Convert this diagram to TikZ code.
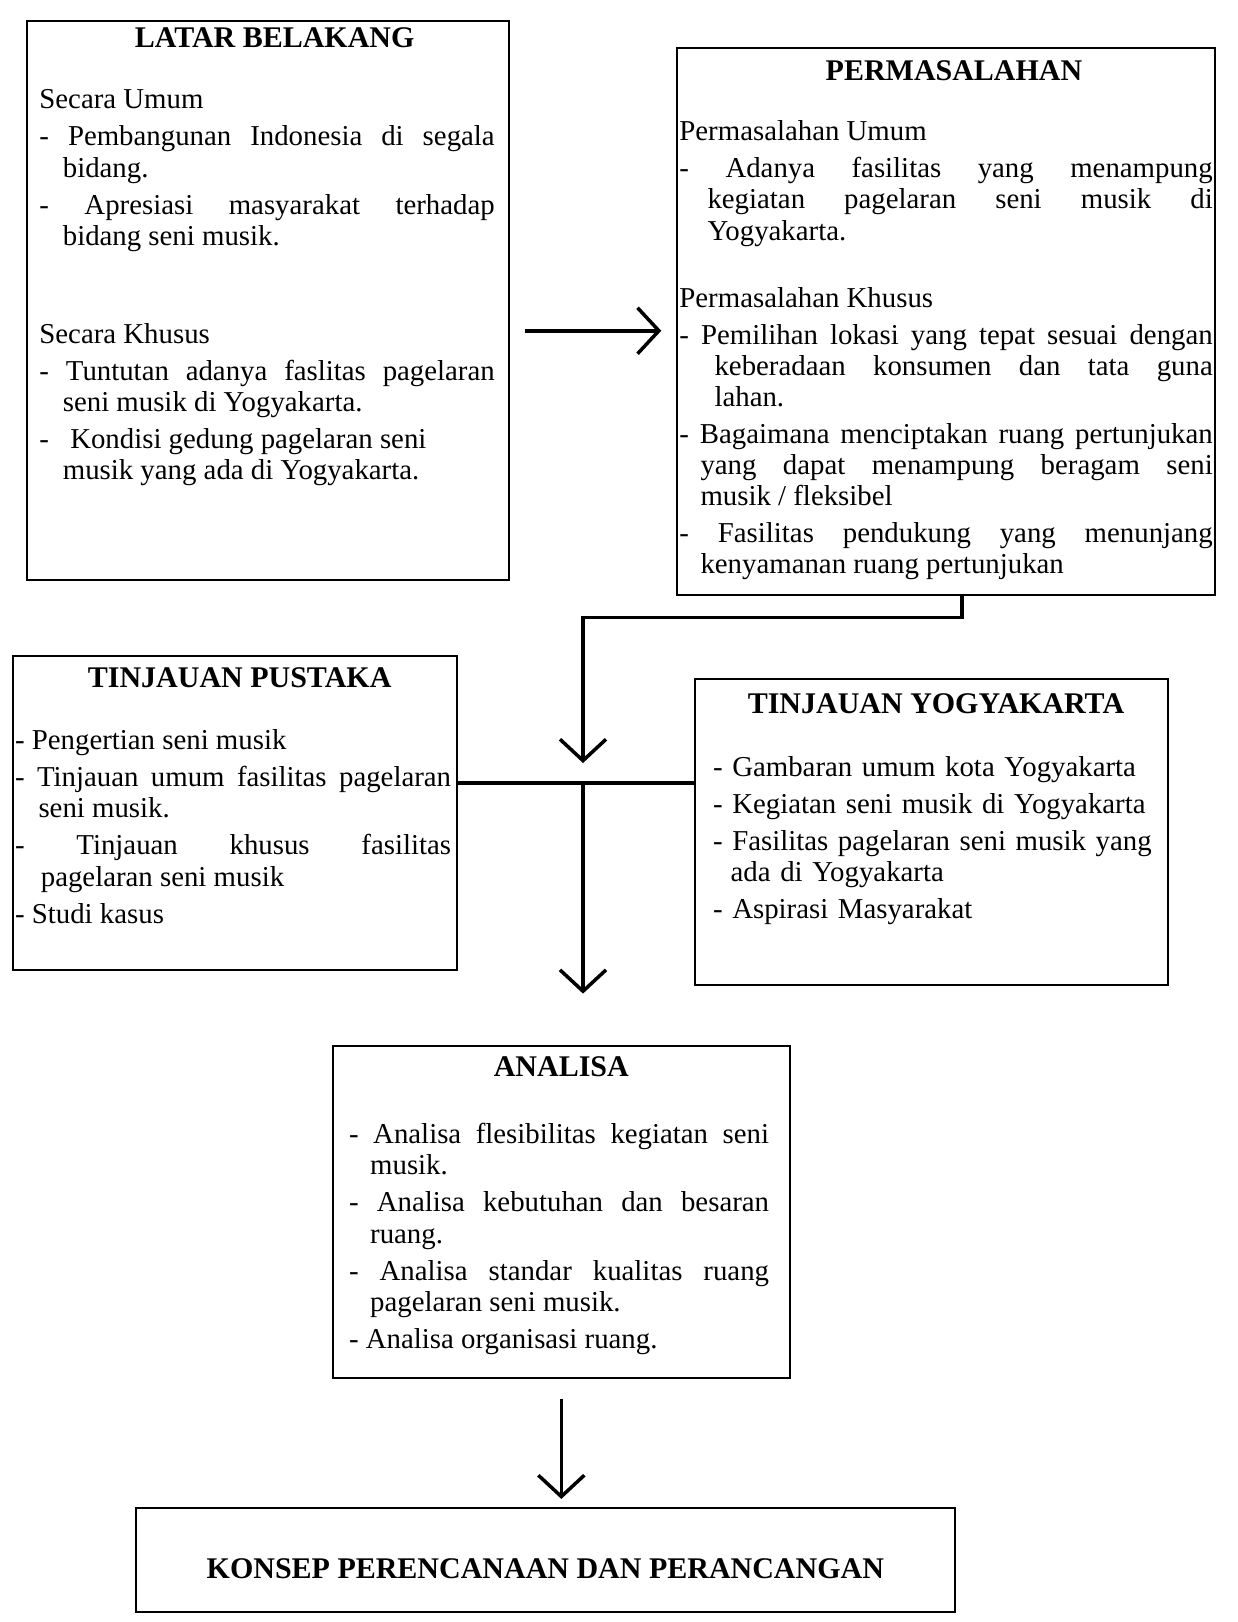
\documentclass[tikz,border=0pt]{standalone}
\usepackage{fontspec}
\setmainfont{Liberation Serif}
\usetikzlibrary{arrows.meta}
\tikzstyle{panel} = [rectangle, draw=black, line width=0.9pt]
\tikzstyle{heading} = [inner sep=0pt, font=\bfseries\fontsize{12.8}{14}\selectfont]
\tikzstyle{body} = [anchor=north west, inner sep=0pt, align=justify, font=\fontsize{12.3}{13.3}\selectfont, execute at begin node={\setlength{\parindent}{0pt}\setlength{\parskip}{2.5pt}}]
\tikzstyle{arrow} = [line width=1.5pt, -{Straight Barb[length=3.2mm,width=6.9mm]}]
\tikzstyle{link} = [line width=1.5pt]
\newcommand{\poin}[1][10pt]{\hangindent=#1\hangafter=1\ignorespaces}
\hyphenpenalty=10000
\exhyphenpenalty=10000

\begin{document}
\begin{tikzpicture}
[node distance=2cm]
\useasboundingbox (0,0) rectangle (18.57,-24.33);

\node (latar) [panel, minimum width=7.23cm, minimum height=8.39cm] at (4.02,-4.51) {};
\node (perm) [panel, minimum width=8.07cm, minimum height=8.2cm, right of = latar, xshift=8.17cm, yshift=-0.31cm] {};
\node (pustaka) [panel, minimum width=6.66cm, minimum height=4.71cm, below of = latar, xshift=-0.5cm, yshift=-5.68cm] {};
\node (yogya) [panel, minimum width=7.1cm, minimum height=4.59cm, below of = perm, xshift=-0.22cm, yshift=-5.66cm] {};
\node (analisa) [panel, minimum width=6.86cm, minimum height=4.98cm, below of = pustaka, xshift=4.9cm, yshift=-3.99cm] {};
\node (konsep) [panel, heading, text height=0.54cm, text depth=0pt, minimum width=12.29cm, minimum height=1.56cm, below of = analisa, xshift=-0.24cm, yshift=-3.22cm] {KONSEP PERENCANAAN DAN PERANCANGAN};

\node (latarhead) [heading] at ([xshift=0.1cm, yshift=-0.26cm]latar.north) {LATAR BELAKANG};
\node (permhead) [heading] at ([xshift=0.12cm, yshift=-0.35cm]perm.north) {PERMASALAHAN};
\node (pustakahead) [heading] at ([xshift=0.075cm, yshift=-0.35cm]pustaka.north) {TINJAUAN PUSTAKA};
\node (yogyahead) [heading] at ([xshift=0.07cm, yshift=-0.39cm]yogya.north) {TINJAUAN YOGYAKARTA};
\node (analisahead) [heading] at ([yshift=-0.33cm]analisa.north) {ANALISA};

\node (latarbody) [body, text width=6.83cm] at ([xshift=0.195cm, yshift=-1.04cm]latar.north west) {%
Secara Umum\par
\poin - Pembangunan Indonesia di segala\linebreak bidang.\par
\poin - Apresiasi masyarakat terhadap\linebreak bidang seni musik.\par
\vspace{26pt}
Secara Khusus\par
\poin - Tuntutan adanya faslitas pagelaran\linebreak seni musik di Yogyakarta.\par
\poin -\hspace{6pt} Kondisi gedung pagelaran seni\newline musik yang ada di Yogyakarta.\par};

\node (permbody) [body, text width=8cm] at ([xshift=0.045cm, yshift=-1.1cm]perm.north west) {%
Permasalahan Umum\par
\poin[12pt] - Adanya fasilitas yang menampung\linebreak kegiatan pagelaran seni musik di\linebreak Yogyakarta.\par
\vspace{12.8pt}
Permasalahan Khusus\par
\poin[15pt] - Pemilihan lokasi yang tepat sesuai dengan\linebreak keberadaan konsumen dan tata guna\linebreak lahan.\par
\poin[9pt] - Bagaimana menciptakan ruang pertunjukan\linebreak yang dapat menampung beragam seni\linebreak musik / fleksibel\par
\poin[9pt] - Fasilitas pendukung yang menunjang\linebreak kenyamanan ruang pertunjukan\par};

\node (pustakabody) [body, text width=6.54cm] at ([xshift=0.045cm, yshift=-1.12cm]pustaka.north west) {%
\poin - Pengertian seni musik\par
\poin - Tinjauan umum fasilitas pagelaran\linebreak seni musik.\par
\poin[11pt] - Tinjauan khusus fasilitas\linebreak pagelaran seni musik\par
\poin - Studi kasus\par};

\node (yogyabody) [body, text width=6.9cm, align=left] at ([xshift=0.285cm, yshift=-1.17cm]yogya.north west) {%
- Gambaran umum kota Yogyakarta\par
- Kegiatan seni musik di Yogyakarta\par
\poin[7.5pt] - Fasilitas pagelaran seni musik yang\newline ada di Yogyakarta\par
- Aspirasi Masyarakat\par};

\node (analisabody) [body, text width=6.3cm] at ([xshift=0.255cm, yshift=-1.17cm]analisa.north west) {%
\poin[9pt] - Analisa flesibilitas kegiatan seni\linebreak musik.\par
\poin[9pt] - Analisa kebutuhan dan besaran\linebreak ruang.\par
\poin[9pt] - Analisa standar kualitas ruang\linebreak pagelaran seni musik.\par
\poin[9pt] - Analisa organisasi ruang.\par};

\coordinate (merge) at (8.745,-11.745);

\draw [arrow, shorten <=0.22cm, shorten >=0.22cm] (latar.east |- perm.182) -- (perm.182);
\draw [arrow, shorten >=0.3cm] ([xshift=0.24cm]perm.south) -- ++(0,-0.33) -| (merge);
\draw [link] (pustaka.east |- merge) -- (yogya.west |- merge);
\draw [arrow, shorten >=0.77cm] (merge) -- (merge |- analisa.north);
\draw [arrow, shorten <=0.3cm, shorten >=0.12cm] (analisa.south) -- (analisa.south |- konsep.north);

\end{tikzpicture}
\end{document}
